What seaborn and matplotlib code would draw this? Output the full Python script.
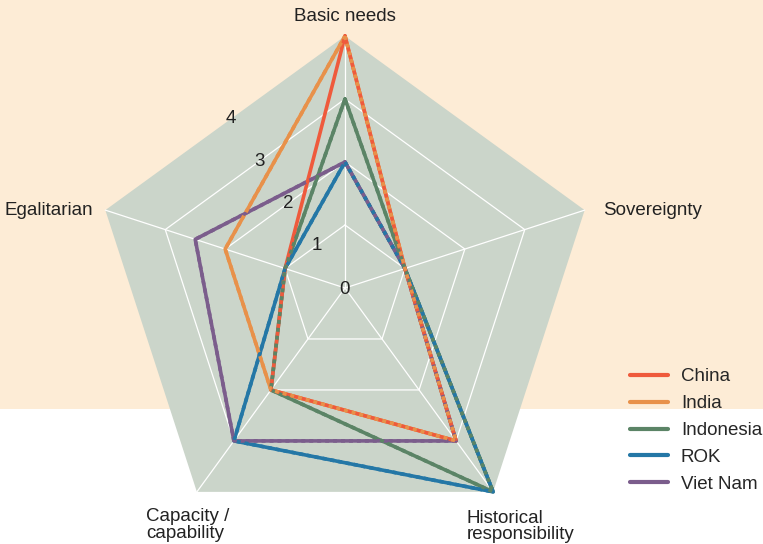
import numpy as np
import pandas as pd
import seaborn as sns
import matplotlib.pyplot as plt
from matplotlib.patches import Polygon, Rectangle

# Axes of the radar, clockwise from the top
axes_labels = ["Basic needs", "Sovereignty", "Historical\nresponsibility",
               "Capacity /\ncapability", "Egalitarian"]
countries = ["China", "India", "Indonesia", "ROK", "Viet Nam"]

china = [4, 1, 3, 2, 1]
india = [4, 1, 3, 2, 2]
indonesia = [3, 1, 4, 2, 1]
rok = [2, 1, 4, 3, 1]
viet_nam = [2, 1, 3, 3, 2.5]

ring_values = [0, 1, 2, 3, 4]
r_max = 4

colors = {"China": "#ef5a3c", "India": "#e8914a", "Indonesia": "#5b8466",
          "ROK": "#2477a6", "Viet Nam": "#7b5d8c"}
draw_order = ["India", "Indonesia", "ROK", "Viet Nam", "China"]

sns.set_theme(style="white")
plt.rcParams["font.family"] = ["Liberation Sans", "DejaVu Sans"]
FS = 13.5

n = len(axes_labels)
angles = np.arange(n) * 2 * np.pi / n  # clockwise from north


def to_xy(vals):
    vals = np.asarray(vals, dtype=float)
    return vals * np.sin(angles), vals * np.cos(angles)


# long-form frame, each polygon closed by repeating the first point
rows = []
for name, vals in zip(countries, [china, india, indonesia, rok, viet_nam]):
    x, y = to_xy(vals)
    for i in list(range(n)) + [0]:
        rows.append({"country": name, "x": x[i], "y": y[i]})
df = pd.DataFrame(rows)

fig = plt.figure(figsize=(7.63, 5.44), dpi=100)
fig.patches.append(Rectangle((0, 0.248), 1, 0.752, transform=fig.transFigure,
                             facecolor="#fdecd6", edgecolor="none", zorder=-10))
ax = fig.add_axes([0, 0, 1, 1])
ax.patch.set_alpha(0)

# pixel layout: centre at (345, 288), one unit = 63 px
unit = 63.0
ax.set_xlim(-345 / unit, (763 - 345) / unit)
ax.set_ylim((288 - 544) / unit, 288 / unit)
ax.set_axis_off()

# background pentagon, rings and spokes
ox, oy = to_xy([r_max] * n)
ax.add_patch(Polygon(np.column_stack([ox, oy]), closed=True,
                     facecolor="#cbd5ca", edgecolor="none", zorder=0))
for r in ring_values[1:-1]:
    gx, gy = to_xy([r] * n)
    ax.plot(np.append(gx, gx[0]), np.append(gy, gy[0]), color="white", lw=0.9, zorder=1)
for i in range(n):
    ax.plot([0, ox[i]], [0, oy[i]], color="white", lw=0.9, zorder=1)

sns.lineplot(data=df, x="x", y="y", hue="country", hue_order=draw_order,
             palette=colors, sort=False, estimator=None, units="country",
             linewidth=2.6, ax=ax, zorder=3)
handles, labels = ax.get_legend_handles_labels()
ax.get_legend().remove()

# dashed second pass so that shared segments show both colours
sns.lineplot(data=df, x="x", y="y", hue="country", hue_order=draw_order[-2::-1],
             palette=colors, sort=False, estimator=None, units="country",
             linewidth=2.6, linestyle=(0, (1.1, 1.1)), ax=ax, zorder=4,
             legend=False)

# radial tick labels along a ray 34 degrees left of north, on the pentagon rings
th = np.deg2rad(34)
shrink = np.cos(np.pi / 5) / np.cos(np.pi / 5 - th)
for r in ring_values:
    rr = r * shrink
    ax.text(-rr * np.sin(th), rr * np.cos(th) - (0.03 if r == 0 else 0), str(r),
            ha="center", va="center", fontsize=FS, color="#222222", zorder=5)

# axis labels
lab_style = dict(fontsize=FS, color="#222222")
lx, ly = to_xy([r_max] * n)
ax.text(lx[0], ly[0] + 0.18, axes_labels[0], ha="center", va="bottom", **lab_style)
ax.text(lx[1] + 0.3, ly[1], axes_labels[1], ha="left", va="center", **lab_style)
ax.text(lx[2] - 0.42, ly[2] - 0.28, axes_labels[2], ha="left", va="top",
        linespacing=0.95, **lab_style)
ax.text(lx[3] - 0.8, ly[3] - 0.26, axes_labels[3], ha="left", va="top",
        linespacing=0.95, **lab_style)
ax.text(lx[4] - 0.2, ly[4], axes_labels[4], ha="right", va="center", **lab_style)

lookup = dict(zip(labels, handles))
leg_handles = [lookup[c] for c in countries]
for h in leg_handles:
    h.set_linewidth(3)
ax.legend(leg_handles, countries, loc="upper left", bbox_to_anchor=(0.826, 0.323),
          bbox_transform=fig.transFigure, frameon=False, fontsize=FS,
          handlelength=2.0, handletextpad=0.7, labelspacing=0.52,
          borderaxespad=0, borderpad=0)

fig.savefig("out.png", dpi=100)
